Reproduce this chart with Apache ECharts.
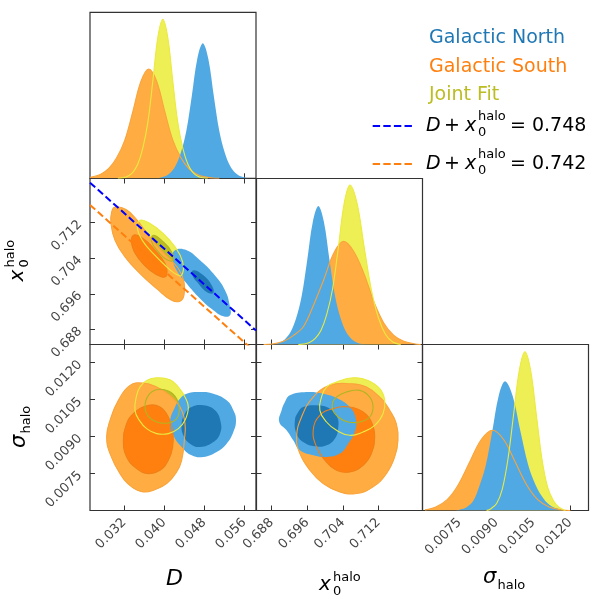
<!DOCTYPE html>
<html><head><meta charset="utf-8">
<script src="https://cdn.jsdelivr.net/npm/echarts@6/dist/echarts.min.js"></script>
<style>html,body{margin:0;padding:0;background:#fff}#c{width:600px;height:600px}</style>
</head><body><div id="c"></div>
<script>
// ---------- tick labels ----------
const dTicks = [0.032, 0.040, 0.048, 0.056];
const x0Ticks = [0.688, 0.696, 0.704, 0.712];
const sigTicks = [0.0075, 0.0090, 0.0105, 0.0120];

// ---------- 1D marginals [value, relative density] ----------
const dNorth = [[0.0378,0],[0.0389,0.0024],[0.0400,0.0106],[0.0411,0.031],[0.0422,0.073],[0.0433,0.154],[0.0444,0.285],[0.0455,0.496],[0.0466,0.72],[0.0477,0.813],[0.0488,0.72],[0.0499,0.496],[0.0510,0.285],[0.0521,0.154],[0.0532,0.073],[0.0543,0.031],[0.0554,0.0106],[0.0565,0.0024],[0.0576,0]];
const dSouth = [[0.0252,0.006],[0.0257,0.0086],[0.0273,0.025],[0.0289,0.059],[0.0305,0.125],[0.0321,0.23],[0.0337,0.401],[0.0353,0.582],[0.0369,0.658],[0.0385,0.582],[0.0401,0.401],[0.0417,0.23],[0.0433,0.125],[0.0449,0.059],[0.0465,0.025],[0.0481,0.0086],[0.0497,0.002],[0.0510,0]];
const dJoint = [[0.0307,0],[0.0317,0.0029],[0.0327,0.0125],[0.0337,0.036],[0.0347,0.086],[0.0357,0.182],[0.0367,0.335],[0.0377,0.584],[0.0387,0.848],[0.0397,0.958],[0.0407,0.848],[0.0417,0.584],[0.0427,0.335],[0.0437,0.182],[0.0447,0.086],[0.0457,0.036],[0.0467,0.0125],[0.0477,0.0029],[0.0487,0]];

const x0North = [[0.6865,0],[0.6885,0.0025],[0.68975,0.0108],[0.6910,0.032],[0.69225,0.075],[0.6935,0.158],[0.69475,0.292],[0.6960,0.509],[0.69725,0.738],[0.6985,0.834],[0.69975,0.738],[0.7010,0.509],[0.70225,0.292],[0.7035,0.158],[0.70475,0.075],[0.7060,0.032],[0.70725,0.0108],[0.7085,0.0025],[0.7105,0]];
const x0South = [[0.6862,0],[0.6885,0.005],[0.6907,0.02],[0.69295,0.055],[0.6952,0.11],[0.69745,0.24],[0.6997,0.39],[0.70195,0.55],[0.7042,0.621],[0.70645,0.56],[0.7087,0.43],[0.71095,0.26],[0.7132,0.13],[0.71545,0.055],[0.7177,0.02],[0.7200,0.005],[0.7215,0]];
const x0Joint = [[0.6940,0],[0.6952,0.0029],[0.6965,0.0125],[0.6978,0.037],[0.6991,0.086],[0.7004,0.183],[0.7017,0.336],[0.7030,0.586],[0.7043,0.85],[0.7056,0.961],[0.7072,0.85],[0.7088,0.586],[0.7104,0.33],[0.7120,0.16],[0.7136,0.06],[0.7152,0.015],[0.7170,0]];

const sigNorth = [[0.0073,0],[0.00753,0.006],[0.00779,0.02],[0.00805,0.055],[0.00831,0.148],[0.00857,0.273],[0.00883,0.475],[0.00909,0.689],[0.00935,0.779],[0.009665,0.689],[0.00998,0.475],[0.010295,0.273],[0.01061,0.148],[0.010925,0.07],[0.01124,0.025],[0.011555,0.008],[0.0119,0]];
const sigSouth = [[0.0061,0.004],[0.00654,0.021],[0.0070,0.065],[0.00746,0.157],[0.00792,0.293],[0.00838,0.426],[0.00884,0.483],[0.0093,0.426],[0.00976,0.293],[0.01022,0.157],[0.01068,0.065],[0.01114,0.021],[0.0116,0.005],[0.0120,0]];
const sigJoint = [[0.0086,0],[0.00878,0.011],[0.00901,0.042],[0.00924,0.129],[0.00947,0.31],[0.0097,0.58],[0.00993,0.844],[0.01016,0.956],[0.01039,0.844],[0.01062,0.58],[0.01085,0.31],[0.01108,0.14],[0.01131,0.06],[0.01154,0.02],[0.0118,0]];

// ---------- 2D credible contours (outer = 95%, inner = 68%) ----------
const dx0SouthOuter = [[0.03014,0.71550],[0.03234,0.71492],[0.03447,0.71267],[0.03647,0.70967],[0.03847,0.70690],[0.04081,0.70413],[0.04281,0.70166],[0.04394,0.69866],[0.04394,0.69567],[0.04314,0.69432],[0.04147,0.69454],[0.03847,0.69716],[0.03514,0.70053],[0.03214,0.70428],[0.03014,0.70803],[0.02934,0.71177],[0.02947,0.71439]];
const dx0SouthInner = [[0.03381,0.70915],[0.03581,0.7084],[0.03814,0.70578],[0.04014,0.70278],[0.04047,0.70016],[0.03947,0.69979],[0.03714,0.70128],[0.03514,0.70353],[0.03361,0.70653]];
const dx0JointOuter = [[0.03514,0.71252],[0.03714,0.71177],[0.03981,0.70952],[0.04214,0.70653],[0.04367,0.70316],[0.04347,0.70016],[0.04214,0.70053],[0.04014,0.70241],[0.03781,0.70503],[0.03581,0.70765],[0.03461,0.71065]];
const dx0JointInner = [[0.03781,0.70915],[0.03981,0.70765],[0.04147,0.7054],[0.04181,0.70353],[0.04047,0.70368],[0.03881,0.7054],[0.03747,0.70765]];
const dx0NorthOuter = [[0.04214,0.70578],[0.04447,0.70578],[0.04714,0.70353],[0.04981,0.70053],[0.05214,0.69679],[0.05314,0.69304],[0.05314,0.69117],[0.05181,0.69095],[0.04981,0.69229],[0.04714,0.69492],[0.04447,0.69829],[0.04247,0.70128],[0.04167,0.70391]];
const dx0NorthInner = [[0.04581,0.70128],[0.04781,0.70016],[0.04947,0.69791],[0.04981,0.69619],[0.04847,0.69641],[0.04681,0.69829],[0.04561,0.70016]];

const dsSouthOuter = [[0.03314,0.01108],[0.03581,0.011175],[0.03847,0.011013],[0.04114,0.010675],[0.04314,0.010202],[0.04414,0.009526],[0.04401,0.00885],[0.04347,0.00804],[0.04247,0.007567],[0.04047,0.007094],[0.03781,0.006823],[0.03581,0.006756],[0.03347,0.006959],[0.03114,0.007499],[0.02914,0.00831],[0.02847,0.008986],[0.02914,0.009661],[0.03081,0.010472]];
const dsSouthInner = [[0.03681,0.010269],[0.03914,0.010202],[0.04081,0.009796],[0.04167,0.009256],[0.04167,0.00858],[0.04081,0.00804],[0.03914,0.007634],[0.03681,0.007499],[0.03447,0.007702],[0.03247,0.008175],[0.03181,0.00885],[0.03234,0.009458],[0.03381,0.009931]];
const dsJointOuter = [[0.03647,0.011283],[0.03847,0.011391],[0.04114,0.01131],[0.04281,0.011013],[0.04414,0.010607],[0.04481,0.010202],[0.04414,0.009661],[0.04281,0.009323],[0.04081,0.009121],[0.03847,0.009121],[0.03647,0.009323],[0.03501,0.009661],[0.03414,0.010067],[0.03447,0.010675],[0.03514,0.011013]];
const dsJointInner = [[0.03847,0.010904],[0.04081,0.01085],[0.04247,0.01054],[0.04301,0.010134],[0.04247,0.009729],[0.04081,0.009553],[0.03847,0.009594],[0.03681,0.009823],[0.03614,0.010202],[0.03681,0.010675]];
const dsNorthOuter = [[0.04447,0.010742],[0.04714,0.01081],[0.04981,0.010742],[0.05247,0.010472],[0.05381,0.010067],[0.05434,0.009661],[0.05381,0.009188],[0.05247,0.008715],[0.05047,0.008377],[0.04781,0.008175],[0.04547,0.008242],[0.04347,0.00858],[0.04181,0.009053],[0.04114,0.009594],[0.04214,0.010202],[0.04314,0.01054]];
const dsNorthInner = [[0.04547,0.010202],[0.04781,0.010269],[0.05014,0.010067],[0.05127,0.009594],[0.05114,0.009121],[0.04981,0.008783],[0.04714,0.00858],[0.04514,0.008715],[0.04381,0.009053],[0.04347,0.009526],[0.04414,0.009931]];

const xsSouthOuter = [[0.70108,0.01108],[0.70556,0.011148],[0.7093,0.011013],[0.71266,0.01054],[0.71453,0.010067],[0.71602,0.009526],[0.7164,0.00885],[0.71565,0.008175],[0.71378,0.007499],[0.71079,0.006959],[0.70705,0.006688],[0.70332,0.006756],[0.69958,0.007094],[0.69659,0.007634],[0.69435,0.00831],[0.6936,0.008986],[0.69472,0.009796],[0.69734,0.010607]];
const xsSouthInner = [[0.70182,0.010134],[0.70556,0.010202],[0.70855,0.009999],[0.71042,0.009594],[0.71117,0.008986],[0.71042,0.00831],[0.70855,0.007837],[0.70556,0.007567],[0.70257,0.007634],[0.69995,0.00804],[0.69809,0.00858],[0.69734,0.009256],[0.69883,0.009864]];
const xsJointOuter = [[0.70257,0.011215],[0.70631,0.011391],[0.70967,0.011283],[0.71229,0.010945],[0.71341,0.010472],[0.71303,0.009931],[0.71117,0.009458],[0.70855,0.009188],[0.70556,0.009053],[0.70257,0.009256],[0.70033,0.009594],[0.69883,0.010067],[0.69921,0.010607],[0.70033,0.011013]];
const xsJointInner = [[0.70481,0.01081],[0.7078,0.010877],[0.71004,0.010607],[0.71079,0.010202],[0.71004,0.009796],[0.7078,0.009594],[0.70519,0.009594],[0.70294,0.009796],[0.70167,0.010134],[0.7022,0.01054]];
const xsNorthOuter = [[0.69211,0.010675],[0.69584,0.01081],[0.69958,0.010742],[0.70294,0.01054],[0.70556,0.010202],[0.70691,0.009729],[0.70668,0.009188],[0.70519,0.008715],[0.70332,0.00831],[0.70033,0.008175],[0.69734,0.008242],[0.69435,0.008445],[0.69285,0.00885],[0.69136,0.009256],[0.68972,0.009594],[0.69024,0.010067],[0.69099,0.010404]];
const xsNorthInner = [[0.6951,0.010202],[0.69809,0.010269],[0.70108,0.010134],[0.70272,0.009796],[0.70294,0.009323],[0.7022,0.008918],[0.70033,0.008648],[0.69771,0.008607],[0.6951,0.008783],[0.6936,0.009121],[0.69323,0.009661],[0.69398,0.009999]];

// ---------- D + x0 = const guide lines ----------
const guideSums = [0.7461, 0.7411];
const guideLabels = ['0.748', '0.742'];
const guideColors = ['#0000ff', '#ff7f0e'];

const seriesNames = ['Galactic North', 'Galactic South', 'Joint Fit'];
const nameColors = ['#1f77b4', '#ff7f0e', '#bcbd22'];

// ---------- layout / styling ----------
const C = {nL:'#50a9e3', nD:'#1f77b4', sL:'#ffad42', sD:'#ff800e', jL:'#eeee55', jD:'#bcbd22',
           sLine:'#f9a43c', sDLine:'#f08018', jLine:'#eaea40', jDLine:'#b3b422'};
const D_R = [0.02514, 0.05834], X_R = [0.6846, 0.7219], S_R = [0.0060, 0.01274];
const COLS = [90, 256.5, 422.5], ROWS = [12.3, 178.5, 344.5], SZ = 166;
const FONT = 'DejaVu Sans';

const grids = [], xAxes = [], yAxes = [], series = [];
const gX = [], gY = [];
function addGrid(r, c) {
  grids.push({left: COLS[c], top: ROWS[r], width: SZ, height: SZ, show: true,
    borderColor: '#333', borderWidth: 1.2, backgroundColor: 'rgba(0,0,0,0)', containLabel: false, outerBoundsMode: 'none'});
  return grids.length - 1;
}
function tickCfg(ticks) {
  return {show: true, inside: true, length: 5, customValues: ticks, lineStyle: {color: '#333', width: 1}};
}
function labCfg(show, ticks, dec) {
  return {show, rotate: 45, customValues: ticks, formatter: v => Number(v).toFixed(dec), margin: 10,
    fontSize: 13, color: '#444', fontFamily: FONT, hideOverlap: false};
}
function addX(g, range, ticks, pos, labels, dec) {
  xAxes.push({type: 'value', gridIndex: g, position: pos, min: range[0], max: range[1],
    axisLine: {show: false}, splitLine: {show: false}, axisTick: tickCfg(ticks), axisLabel: labCfg(labels, ticks, dec)});
  return xAxes.length - 1;
}
function addY(g, range, ticks, pos, labels, dec) {
  yAxes.push({type: 'value', gridIndex: g, position: pos, min: range[0], max: range[1],
    axisLine: {show: false}, splitLine: {show: false}, axisTick: tickCfg(ticks), axisLabel: labCfg(labels, ticks, dec)});
  return yAxes.length - 1;
}
function addHiddenY(g) {
  yAxes.push({type: 'value', gridIndex: g, min: 0, max: 1, show: false});
  return yAxes.length - 1;
}
function diag(r, c, range, ticks, labels, dec) {
  const g = addGrid(r, c);
  gX[g] = addX(g, range, ticks, 'bottom', labels, dec);
  gY[g] = addHiddenY(g);
  return g;
}
function twoD(r, c, xr, xt, xl, xd, yr, yt, yl, yd) {
  const g = addGrid(r, c);
  gX[g] = addX(g, xr, xt, 'bottom', xl, xd);
  addX(g, xr, xt, 'top', false, xd);
  gY[g] = addY(g, yr, yt, 'left', yl, yd);
  addY(g, yr, yt, 'right', false, yd);
  return g;
}

const g0 = diag(0, 0, D_R, dTicks, false, 3);
const g1 = twoD(1, 0, D_R, dTicks, false, 3, X_R, x0Ticks, true, 3);
const g2 = diag(1, 1, X_R, x0Ticks, false, 3);
const g3 = twoD(2, 0, D_R, dTicks, true, 3, S_R, sigTicks, true, 4);
const g4 = twoD(2, 1, X_R, x0Ticks, true, 3, S_R, sigTicks, false, 4);
const g5 = diag(2, 2, S_R, sigTicks, true, 4);

function fill1D(g, data, color) {
  series.push({type: 'line', xAxisIndex: gX[g], yAxisIndex: gY[g], data, smooth: 0.35, symbol: 'none',
    lineStyle: {width: 0, opacity: 0}, areaStyle: {color, opacity: 1, origin: 'start'}, silent: true, z: 2});
}
function line1D(g, data, color) {
  series.push({type: 'line', xAxisIndex: gX[g], yAxisIndex: gY[g], data, smooth: 0.35, symbol: 'none',
    lineStyle: {width: 1.1, color}, silent: true, z: 3});
}
function diagPanel(g, north, south, joint) {
  fill1D(g, joint, C.jL);
  fill1D(g, south, C.sL);
  fill1D(g, north, C.nL);
  line1D(g, south, C.sLine);
  line1D(g, joint, C.jLine);
}
diagPanel(g0, dNorth, dSouth, dJoint);
diagPanel(g2, x0North, x0South, x0Joint);
diagPanel(g5, sigNorth, sigSouth, sigJoint);

function poly(g, pts, fill, stroke, z) {
  series.push({type: 'custom', xAxisIndex: gX[g], yAxisIndex: gY[g], data: pts, silent: true, clip: true, z,
    renderItem: (params, api) => {
      if (params.dataIndex !== 0) return null;
      const points = pts.map(p => api.coord(p));
      return {type: 'polygon', shape: {points, smooth: 0.45},
        style: {fill: fill || 'none', stroke: stroke || 'none', lineWidth: stroke ? 1.1 : 0}};
    }});
}
function panel2D(g, nO, nI, sO, sI, jO, jI) {
  poly(g, jO, C.jL, null, 2);
  poly(g, jI, C.jD, null, 2);
  poly(g, sO, C.sL, null, 2);
  poly(g, sI, C.sD, null, 2);
  poly(g, nO, C.nL, null, 2);
  poly(g, nI, C.nD, null, 2);
  poly(g, sO, null, C.sLine, 3);
  poly(g, sI, null, C.sDLine, 3);
  poly(g, jO, null, C.jLine, 3);
  poly(g, jI, null, C.jDLine, 3);
}
panel2D(g1, dx0NorthOuter, dx0NorthInner, dx0SouthOuter, dx0SouthInner, dx0JointOuter, dx0JointInner);
panel2D(g3, dsNorthOuter, dsNorthInner, dsSouthOuter, dsSouthInner, dsJointOuter, dsJointInner);
panel2D(g4, xsNorthOuter, xsNorthInner, xsSouthOuter, xsSouthInner, xsJointOuter, xsJointInner);

guideSums.forEach((s, i) => {
  series.push({type: 'line', xAxisIndex: gX[g1], yAxisIndex: gY[g1], clip: true, symbol: 'none', silent: true, z: 6,
    data: [[D_R[0], s - D_R[0]], [D_R[1], s - D_R[1]]],
    lineStyle: {color: guideColors[i], width: 2, type: [7, 3.4]}});
});

// ---------- text (labels, legend) ----------
function txt(x, y, text, fs, o) {
  o = o || {};
  const al = o.al || 'left';
  return {type: 'text', x, y, silent: true, z: 100,
    style: {text, fontSize: fs, fontFamily: FONT, fontStyle: o.it ? 'italic' : 'normal', fill: o.c || '#000',
      align: al, verticalAlign: 'middle', textAlign: al, textVerticalAlign: 'middle'}};
}
const graphic = [];
graphic.push(txt(174.5, 579.3, 'D', 22, {it: 1, al: 'center'}));
graphic.push(txt(319, 584.7, 'x', 20, {it: 1}));
graphic.push(txt(333, 577.2, 'halo', 13));
graphic.push(txt(333, 591.5, '0', 13));
graphic.push(txt(483, 577.6, 'σ', 21, {it: 1}));
graphic.push(txt(497.5, 585.5, 'halo', 13));
graphic.push({type: 'group', x: 25, y: 281.5, rotation: Math.PI / 2, children: [
  txt(0, -7, 'x', 20, {it: 1}), txt(14, -14.5, 'halo', 13), txt(14, -0.3, '0', 13)]});
graphic.push({type: 'group', x: 26.5, y: 448, rotation: Math.PI / 2, children: [
  txt(0, -7.35, 'σ', 21, {it: 1}), txt(14.5, 0.45, 'halo', 13)]});
seriesNames.forEach((n, i) => graphic.push(txt(429, 38.3 + i * 28.3, n, 19, {c: nameColors[i]})));
guideLabels.forEach((lab, i) => {
  const b = 133 + i * 38;
  const m = b - 6.65;
  graphic.push({type: 'line', silent: true, shape: {x1: 372.7, y1: b - 7, x2: 412.3, y2: b - 7},
    style: {stroke: guideColors[i], lineWidth: 2, lineDash: [7.4, 3.2]}});
  graphic.push(txt(426, m, 'D', 19, {it: 1}));
  graphic.push(txt(444, m, '+', 19));
  graphic.push(txt(465, m, 'x', 19, {it: 1}));
  graphic.push(txt(478, b - 12 - 4.55, 'halo', 13));
  graphic.push(txt(478, b + 3.7 - 4.55, '0', 13));
  graphic.push(txt(510, m, '= ' + lab, 19));
});

const chart = echarts.init(document.getElementById('c'), null, {renderer: 'canvas', width: 600, height: 600});
chart.setOption({animation: false, backgroundColor: '#fff', grid: grids, xAxis: xAxes, yAxis: yAxes, series, graphic});
</script></body></html>
